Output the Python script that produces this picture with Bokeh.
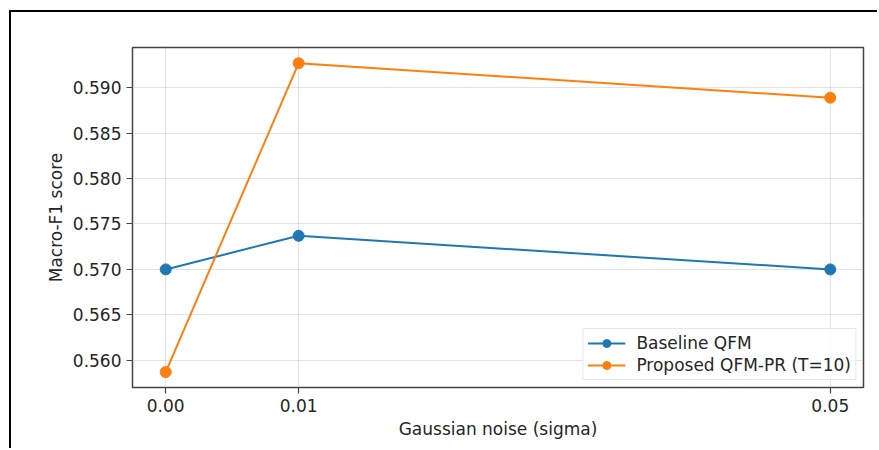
from bokeh.plotting import figure
from bokeh.models import FixedTicker, NumeralTickFormatter, Legend, LegendItem, Range1d
from bokeh.embed import file_html
from bokeh.resources import INLINE

sigma = [0.00, 0.01, 0.05]
baseline = [0.5700, 0.5737, 0.5700]
proposed = [0.5587, 0.5927, 0.5889]
series_names = ["Baseline QFM", "Proposed QFM-PR (T=10)"]
x_ticks = [0.00, 0.01, 0.05]
y_ticks = [0.560, 0.565, 0.570, 0.575, 0.580, 0.585, 0.590]

BLUE = "#1f77b4"
ORANGE = "#ff7f0e"
FONT = "DejaVu Sans"
TXT = "#262626"
FS = "17px"

p = figure(width=868, height=438, output_backend="svg", toolbar_location=None,
           x_range=Range1d(-0.0025, 0.0525), y_range=Range1d(0.55700, 0.59443),
           min_border_left=121, min_border_top=35, min_border_right=16, min_border_bottom=63)
p.styles = {"border-top": "2px solid black", "border-left": "2px solid black",
            "margin-top": "10px", "margin-left": "9px"}

p.outline_line_color = "#444444"
p.outline_line_width = 1.5
p.background_fill_color = "white"
p.border_fill_color = "white"

for g in (p.xgrid, p.ygrid):
    g.grid_line_color = "#b0b0b0"
    g.grid_line_alpha = 0.35
    g.grid_line_width = 1

p.xaxis.ticker = FixedTicker(ticks=x_ticks)
p.yaxis.ticker = FixedTicker(ticks=y_ticks)
p.xaxis.formatter = NumeralTickFormatter(format="0.00")
p.yaxis.formatter = NumeralTickFormatter(format="0.000")
p.xaxis.axis_label = "Gaussian noise (sigma)"
p.yaxis.axis_label = "Macro-F1 score"

for ax in (p.xaxis[0], p.yaxis[0]):
    ax.axis_line_color = None
    ax.major_tick_line_color = "#444444"
    ax.major_tick_line_width = 1.2
    ax.major_tick_out = 6
    ax.major_tick_in = 0
    ax.minor_tick_line_color = None
    ax.major_label_text_font = FONT
    ax.major_label_text_font_size = FS
    ax.major_label_text_color = TXT
    ax.axis_label_text_font = FONT
    ax.axis_label_text_font_size = FS
    ax.axis_label_text_font_style = "normal"
    ax.axis_label_text_color = TXT
p.yaxis.major_label_standoff = 5
p.xaxis.major_label_standoff = 5
p.yaxis.axis_label_standoff = 4
p.xaxis.axis_label_standoff = 4

r1l = p.line(sigma, baseline, line_color=BLUE, line_width=2)
r1c = p.scatter(sigma, baseline, size=11, fill_color=BLUE, line_color=BLUE)
r2l = p.line(sigma, proposed, line_color=ORANGE, line_width=2)
r2c = p.scatter(sigma, proposed, size=11, fill_color=ORANGE, line_color=ORANGE)

legend = Legend(items=[LegendItem(label=series_names[0], renderers=[r1l, r1c]),
                       LegendItem(label=series_names[1], renderers=[r2l, r2c])],
                location="bottom_right")
legend.margin = 7
legend.padding = 4
legend.spacing = 2
legend.glyph_width = 38
legend.glyph_height = 20
legend.label_height = 20
legend.label_standoff = 11
legend.label_text_font = FONT
legend.label_text_font_size = FS
legend.label_text_color = TXT
legend.border_line_color = "#d0d0d0"
legend.border_line_width = 1
legend.background_fill_alpha = 0.85
p.add_layout(legend)

open("out.html", "w").write(file_html(p, INLINE))
